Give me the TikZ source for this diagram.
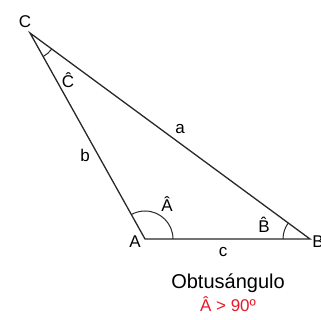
\documentclass[tikz,border=0pt]{standalone}
\usepackage{fontspec}
\setmainfont{Liberation Sans}
\definecolor{linegray}{RGB}{40,40,40}
\definecolor{anglered}{RGB}{230,25,40}
\tikzset{
  side/.style = {linegray, line width = 1.3pt, line join = miter},
  anglearc/.style = {linegray, line width = 1pt},
  lbl/.style = {font = \fontsize{17}{20}\selectfont, inner sep = 0pt}
}
\begin{document}
\begin{tikzpicture} [x = 1pt, y = 1pt]
	\useasboundingbox (0,0) rectangle (321,320);
	\coordinate (A) at (145,81);
	\coordinate (B) at (310,81);
	\coordinate (C) at (30,287);
	\draw [side] (A) -- (B) -- (C) -- cycle;
	% angle arcs
	\draw [anglearc] ([shift = {(0:28)}]A) arc (0:119.2:28);
	\draw [anglearc] ([shift = {(143.7:27)}]B) arc (143.7:180:27);
	\draw [anglearc] ([shift = {(-60.8:27)}]C) arc (-60.8:-36.3:27);
	% vertices
	\node [lbl] (lA) at (135,78) {A};
	\node [lbl] (lB) at (318,78) {B};
	\node [lbl] (lC) at (25,298) {C};
	% sides
	\node [lbl] (la) at (180,191) {a};
	\node [lbl] (lb) at (85,165) {b};
	\node [lbl] (lc) at (223,68) {c};
	% angles
	\node [lbl] (hA) at (167,116) {Â};
	\node [lbl] (hB) at (264,95) {\^{B}};
	\node [lbl] (hC) at (68,240) {Ĉ};
	%\node [lbl] at (160,160) {Acutángulo};
	\node [lbl, font = \fontsize{20}{24}\selectfont] (title) at (228,37) {Obtusángulo};
	\node [lbl, anglered] (cond) at (228,16) {Â > 90º};
\end{tikzpicture}
\end{document}
